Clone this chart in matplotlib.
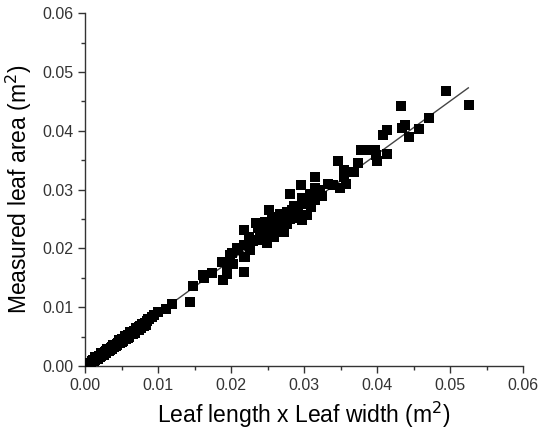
import matplotlib
matplotlib.use("Agg")
import matplotlib.pyplot as plt
from matplotlib.ticker import MultipleLocator, FormatStrFormatter

plt.rcParams['font.family'] = ['Liberation Sans', 'DejaVu Sans']

# leaf length x leaf width (m2)
lw = [0.0003, 0.0005, 0.0007, 0.0009, 0.0011, 0.0013, 0.0015, 0.0017, 0.0019, 0.0021,
      0.0023, 0.0025, 0.0027, 0.0029, 0.0031, 0.0033, 0.0035, 0.0037, 0.0039, 0.0041,
      0.0043, 0.0045, 0.0047, 0.0049, 0.0051, 0.0053, 0.0055, 0.0057, 0.0059, 0.0061,
      0.0063, 0.0065, 0.0067, 0.0069, 0.0071, 0.0073, 0.0075, 0.0077, 0.0079, 0.0082,
      0.0085, 0.0088, 0.0091,
      0.0008, 0.0012, 0.0016, 0.0020, 0.0024, 0.0028, 0.0032, 0.0036, 0.0040, 0.0044,
      0.0048, 0.0052, 0.0056, 0.0060, 0.0064, 0.0068, 0.0072, 0.0076, 0.0080,
      0.0014, 0.0022, 0.0030, 0.0038, 0.0046, 0.0054, 0.0062, 0.0070, 0.0078, 0.0086,
      0.0018, 0.0026, 0.0034, 0.0042, 0.0050, 0.0058, 0.0066, 0.0074, 0.0083,
      0.0094, 0.0100, 0.0110, 0.0119, 0.0144, 0.0148, 0.0162, 0.0163, 0.0174,
      0.0187, 0.0189, 0.0194, 0.0194, 0.0196, 0.0199, 0.0201, 0.0203, 0.0208, 0.0210,
      0.0217, 0.0217, 0.0217, 0.0218, 0.0219, 0.0219, 0.0226, 0.0234, 0.0235, 0.0237,
      0.0244, 0.0247, 0.0249, 0.0252, 0.0253, 0.0258, 0.0260, 0.0263, 0.0267, 0.0272,
      0.0274, 0.0276, 0.0281, 0.0288, 0.0290, 0.0295, 0.0297, 0.0297, 0.0304, 0.0308,
      0.0310, 0.0315, 0.0315, 0.0315, 0.0240, 0.0255, 0.0265, 0.0270, 0.0280, 0.0285,
      0.0292, 0.0300, 0.0262, 0.0278, 0.0250, 0.0268, 0.0283, 0.0245, 0.0230, 0.0224,
      0.0256, 0.0271, 0.0286, 0.0302, 0.0258, 0.0276, 0.0242,
      0.0333, 0.0340, 0.0346, 0.0349, 0.0354, 0.0354, 0.0358, 0.0368, 0.0374, 0.0378,
      0.0384, 0.0397, 0.0399, 0.0400, 0.0408, 0.0414, 0.0414, 0.0433, 0.0434, 0.0438,
      0.0444, 0.0457, 0.0471, 0.0495, 0.0526, 0.0325, 0.0322]
# measured leaf area (m2)
area = [0.0002, 0.0004, 0.0006, 0.0008, 0.0010, 0.0011, 0.0013, 0.0015, 0.0017, 0.0018,
        0.0020, 0.0022, 0.0024, 0.0026, 0.0027, 0.0029, 0.0031, 0.0033, 0.0035, 0.0036,
        0.0038, 0.0040, 0.0042, 0.0044, 0.0046, 0.0047, 0.0049, 0.0051, 0.0053, 0.0055,
        0.0057, 0.0058, 0.0060, 0.0062, 0.0064, 0.0066, 0.0068, 0.0069, 0.0071, 0.0074,
        0.0077, 0.0080, 0.0083,
        0.0005, 0.0009, 0.0012, 0.0016, 0.0019, 0.0023, 0.0026, 0.0029, 0.0033, 0.0036,
        0.0040, 0.0043, 0.0047, 0.0050, 0.0054, 0.0057, 0.0061, 0.0065, 0.0068,
        0.0015, 0.0022, 0.0029, 0.0036, 0.0044, 0.0051, 0.0058, 0.0065, 0.0072, 0.0080,
        0.0012, 0.0019, 0.0027, 0.0034, 0.0041, 0.0048, 0.0055, 0.0062, 0.0070,
        0.0087, 0.0092, 0.0098, 0.0105, 0.0109, 0.0136, 0.0155, 0.0149, 0.0159,
        0.0177, 0.0146, 0.0169, 0.0157, 0.0177, 0.0189, 0.0192, 0.0174, 0.0200, 0.0197,
        0.0231, 0.0186, 0.0160, 0.0206, 0.0206, 0.0186, 0.0197, 0.0244, 0.0214, 0.0234,
        0.0223, 0.0245, 0.0209, 0.0266, 0.0234, 0.0220, 0.0254, 0.0240, 0.0259, 0.0228,
        0.0259, 0.0242, 0.0292, 0.0251, 0.0265, 0.0308, 0.0285, 0.0248, 0.0257, 0.0293,
        0.0271, 0.0282, 0.0322, 0.0302, 0.0218, 0.0230, 0.0238, 0.0246, 0.0250, 0.0262,
        0.0270, 0.0275, 0.0232, 0.0255, 0.0226, 0.0244, 0.0266, 0.0215, 0.0212, 0.0220,
        0.0248, 0.0236, 0.0272, 0.0280, 0.0240, 0.0262, 0.0230,
        0.0310, 0.0308, 0.0348, 0.0302, 0.0333, 0.0322, 0.0310, 0.0330, 0.0346, 0.0367,
        0.0368, 0.0368, 0.0359, 0.0348, 0.0393, 0.0401, 0.0361, 0.0442, 0.0404, 0.0410,
        0.0390, 0.0403, 0.0422, 0.0467, 0.0444, 0.0290, 0.0300]

fit_x = [0.0, 0.0525]
fit_y = [0.0, 0.0473]

fig = plt.figure(figsize=(5.5, 4.38), dpi=100)
ax = fig.add_axes([0.155, 0.164, 0.796, 0.806])

ax.scatter(lw, area, marker='s', s=42, color='black', linewidths=0, zorder=3)
ax.plot(fit_x, fit_y, color='#444444', lw=1.0, zorder=2)

ax.set_xlim(0, 0.06)
ax.set_ylim(0, 0.06)
ax.xaxis.set_major_locator(MultipleLocator(0.01))
ax.yaxis.set_major_locator(MultipleLocator(0.01))
ax.xaxis.set_minor_locator(MultipleLocator(0.005))
ax.yaxis.set_minor_locator(MultipleLocator(0.005))
ax.xaxis.set_major_formatter(FormatStrFormatter('%.2f'))
ax.yaxis.set_major_formatter(FormatStrFormatter('%.2f'))

for side in ['top', 'right']:
    ax.spines[side].set_visible(False)
for side in ['left', 'bottom']:
    ax.spines[side].set_color('#333333')
    ax.spines[side].set_linewidth(1.0)

ax.tick_params(which='major', direction='out', length=5, width=1, colors='#333333',
               labelsize=11.5, labelcolor='#333333')
ax.tick_params(which='minor', direction='out', length=3, width=1, colors='#333333')

ax.set_xlabel('Leaf length x Leaf width (m$^2$)', fontsize=16.5, labelpad=5)
ax.set_ylabel('Measured leaf area (m$^2$)', fontsize=16.5, labelpad=6)

fig.savefig('out.png', dpi=100, facecolor='white')
